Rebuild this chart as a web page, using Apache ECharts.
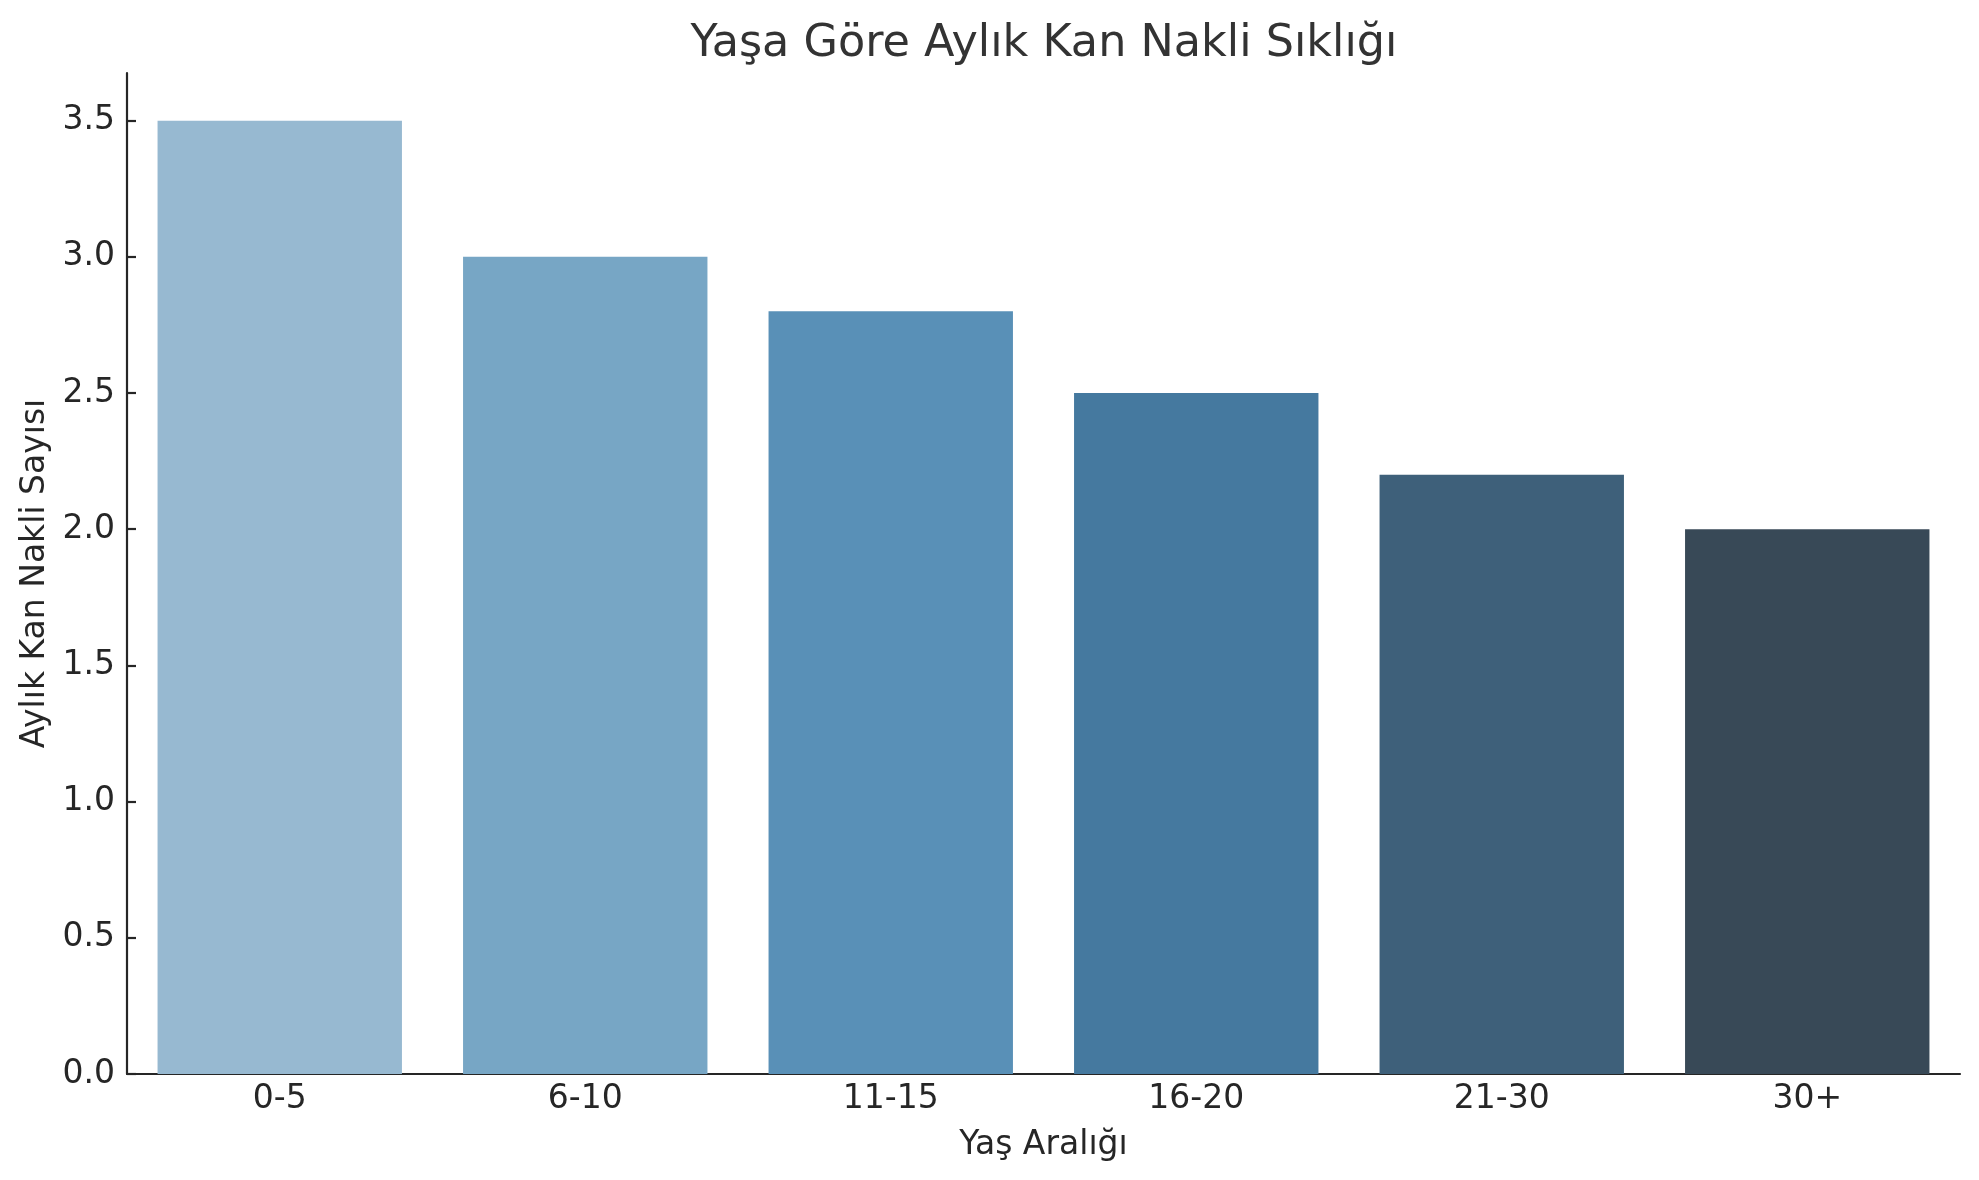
<!DOCTYPE html>
<html>
<head>
<meta charset="utf-8">
<title>Yaşa Göre Aylık Kan Nakli Sıklığı</title>
<script src="https://cdn.jsdelivr.net/npm/echarts@6/dist/echarts.min.js"></script>
<style>
  html, body { margin: 0; padding: 0; background: #fff; }
  #main { width: 1979px; height: 1180px; }
</style>
</head>
<body>
<div id="main"></div>
<script>
// data
var ageGroups = ['0-5', '6-10', '11-15', '16-20', '21-30', '30+'];
var transfusions = [3.5, 3.0, 2.8, 2.5, 2.2, 2.0];
var barColors = ['#97b9d1', '#77a6c5', '#5990b7', '#45799f', '#3e607a', '#384957'];
var yTicks = [0, 0.5, 1.0, 1.5, 2.0, 2.5, 3.0, 3.5];

var chart = echarts.init(document.getElementById('main'));

var font = 'DejaVu Sans';
var axisColor = '#262626';

var option = {
  backgroundColor: '#fff',
  animation: false,
  title: {
    text: 'Yaşa Göre Aylık Kan Nakli Sıklığı',
    left: 1039,
    top: 17,
    textAlign: 'center',
    textStyle: { fontFamily: font, fontSize: 44.5, fontWeight: 'normal', color: '#333333' }
  },
  grid: { left: 127, right: 19, top: 73, bottom: 106, containLabel: false },
  xAxis: {
    type: 'category',
    data: ageGroups,
    name: 'Yaş Aralığı',
    nameLocation: 'middle',
    nameGap: 55,
    nameTextStyle: { fontFamily: font, fontSize: 33, color: axisColor },
    axisLine: { lineStyle: { color: axisColor, width: 2.2 } },
    axisTick: { inside: true, alignWithLabel: true, length: 9, lineStyle: { color: axisColor, width: 2.2 } },
    axisLabel: { fontFamily: font, fontSize: 33, color: axisColor, margin: 9 },
    splitLine: { show: false }
  },
  yAxis: {
    type: 'value',
    min: 0,
    max: 3.675,
    interval: 0.5,
    name: 'Aylık Kan Nakli Sayısı',
    nameLocation: 'middle',
    nameGap: 74,
    nameRotate: 90,
    nameTextStyle: { fontFamily: font, fontSize: 33, color: axisColor },
    axisLine: { show: true, lineStyle: { color: axisColor, width: 2.2 } },
    axisTick: { show: true, inside: true, length: 9, customValues: yTicks, lineStyle: { color: axisColor, width: 2.2 } },
    axisLabel: {
      fontFamily: font, fontSize: 33, color: axisColor, margin: 12,
      customValues: yTicks,
      formatter: function (v) { return v.toFixed(1); }
    },
    splitLine: { show: false }
  },
  series: [
    {
      type: 'bar',
      barWidth: '80%',
      data: transfusions.map(function (v, i) {
        return { value: v, itemStyle: { color: barColors[i] } };
      })
    }
  ]
};

chart.setOption(option);
</script>
</body>
</html>
